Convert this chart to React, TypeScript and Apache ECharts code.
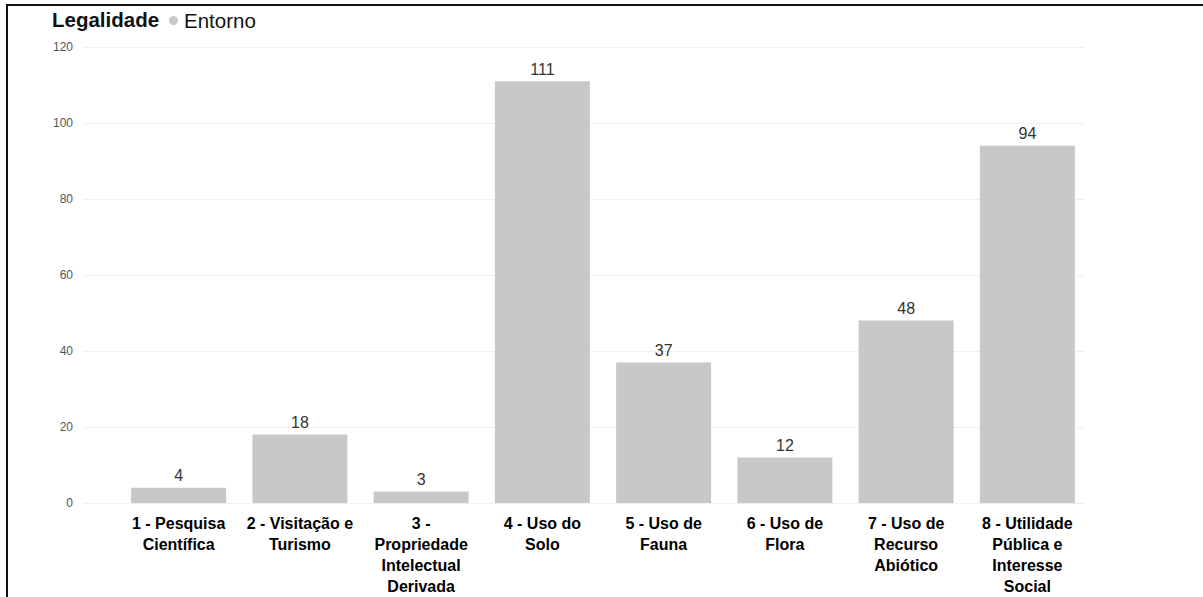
import React, { useEffect, useRef } from "react";
import * as echarts from "echarts";

// Categories and counts per category ("Entorno")
const categories: string[] = [
  "1 - Pesquisa Científica",
  "2 - Visitação e Turismo",
  "3 - Propriedade Intelectual Derivada",
  "4 - Uso do Solo",
  "5 - Uso de Fauna",
  "6 - Uso de Flora",
  "7 - Uso de Recurso Abiótico",
  "8 - Utilidade Pública e Interesse Social",
];
// Wrapped tick labels, one per category
const tickLabels: string[] = [
  "1 - Pesquisa\nCientífica",
  "2 - Visitação e\nTurismo",
  "3 -\nPropriedade\nIntelectual\nDerivada",
  "4 - Uso do\nSolo",
  "5 - Uso de\nFauna",
  "6 - Uso de\nFlora",
  "7 - Uso de\nRecurso\nAbiótico",
  "8 - Utilidade\nPública e\nInteresse\nSocial",
];
const entornoValues: number[] = [4, 18, 3, 111, 37, 12, 48, 94];

const chartTitle = "Legalidade";
const seriesName = "Entorno";
const yMin = 0;
const yMax = 120;
const yStep = 20;

const FONT = "'Liberation Sans', Arial, sans-serif";

export default function App() {
  const ref = useRef<HTMLDivElement>(null);

  useEffect(() => {
    if (!ref.current) return;
    const chart = echarts.init(ref.current, undefined, { renderer: "svg" });
    chart.setOption({
      animation: false,
      backgroundColor: "#ffffff",
      textStyle: { fontFamily: FONT },
      title: {
        text: chartTitle,
        left: 52,
        top: 9,
        padding: 0,
        textStyle: { fontSize: 20.5, fontWeight: "bold", color: "#111111", fontFamily: FONT },
      },
      legend: {
        left: 169,
        top: 10,
        padding: 0,
        icon: "circle",
        itemWidth: 9,
        itemHeight: 9,
        itemGap: 10,
        textStyle: { fontSize: 20.5, color: "#111111", fontFamily: FONT, padding: [0, 0, 0, 1] },
        data: [seriesName],
      },
      grid: [
        { left: 83, right: 119, top: 47, bottom: 94 },
        { left: 118, right: 115, top: 47, bottom: 94 },
      ],
      xAxis: [
        { type: "category", gridIndex: 0, data: [], show: false },
        {
          type: "category",
          gridIndex: 1,
          data: categories,
          axisLine: { show: false },
          axisTick: { show: false },
          axisLabel: {
            interval: 0,
            margin: 10,
            fontSize: 16,
            fontWeight: "bold",
            color: "#000000",
            fontFamily: FONT,
            lineHeight: 21,
            align: "center",
            formatter: (_v: string, i: number) => tickLabels[i],
          },
        },
      ],
      yAxis: [
        {
          type: "value",
          gridIndex: 0,
          min: yMin,
          max: yMax,
          interval: yStep,
          axisLine: { show: false },
          axisTick: { show: false },
          axisLabel: { fontSize: 12, color: "#555555", margin: 10, fontFamily: FONT },
          splitLine: { lineStyle: { color: "#f0f0f0", width: 1 } },
        },
        {
          type: "value",
          gridIndex: 1,
          min: yMin,
          max: yMax,
          interval: yStep,
          show: false,
          splitLine: { show: false },
        },
      ],
      series: [
        {
          name: seriesName,
          type: "bar",
          xAxisIndex: 1,
          yAxisIndex: 1,
          data: entornoValues,
          barWidth: 95,
          itemStyle: { color: "#c8c8c8" },
          label: {
            show: true,
            position: "top",
            distance: 4,
            fontSize: 16,
            color: "#333333",
            fontFamily: FONT,
          },
        },
      ],
      graphic: [
        { type: "rect", shape: { x: 6, y: 4, width: 1197, height: 2 }, style: { fill: "#111111" } },
        { type: "rect", shape: { x: 6, y: 4, width: 2, height: 593 }, style: { fill: "#111111" } },
      ],
    });
    return () => chart.dispose();
  }, []);

  return (
    <div
      ref={ref}
      style={{ position: "absolute", left: 0, top: 0, width: 1203, height: 597 }}
    />
  );
}
